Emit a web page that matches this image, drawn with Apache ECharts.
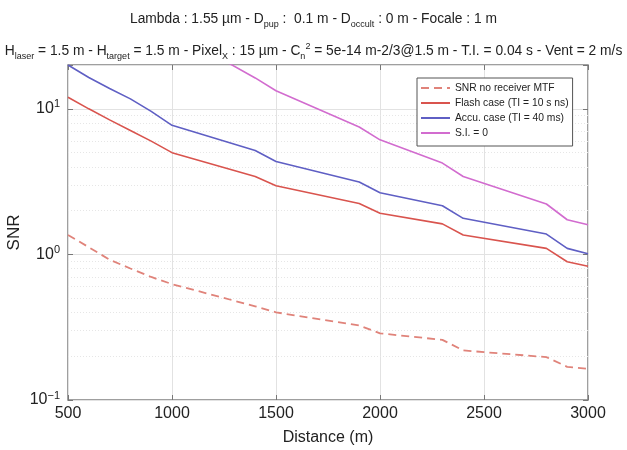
<!DOCTYPE html>
<html>
<head>
<meta charset="utf-8">
<script src="https://cdn.jsdelivr.net/npm/echarts@6/dist/echarts.min.js"></script>
<style>html,body{margin:0;padding:0;background:#fff}#c{width:627px;height:450px}</style>
</head>
<body>
<div id="c"></div>
<script>
const distance = [500, 600, 700, 800, 900, 1000, 1400, 1500, 1900, 2000, 2300, 2400, 2800, 2900, 3000];
const snrNoMtf = [1.36, 1.12, 0.92, 0.80, 0.70, 0.625, 0.44, 0.40, 0.325, 0.287, 0.259, 0.219, 0.197, 0.169, 0.164];
const flashCase = [12, 10, 8.4, 7.1, 6.0, 5.0, 3.43, 2.96, 2.24, 1.92, 1.62, 1.36, 1.10, 0.89, 0.83];
const accuCase = [20, 16.4, 13.8, 11.7, 9.6, 7.7, 5.17, 4.35, 3.14, 2.65, 2.16, 1.77, 1.38, 1.10, 1.01];
const siZero = [null, null, null, null, null, 34, 16.3, 13.3, 7.5, 6.12, 4.24, 3.43, 2.22, 1.73, 1.60];
const seriesNames = ['SNR no receiver MTF', 'Flash case (TI = 10 s ns)', 'Accu. case (TI = 40 ms)', 'S.I. = 0'];
const xTicks = [500, 1000, 1500, 2000, 2500, 3000];
const minorY = [0.2,0.3,0.4,0.5,0.6,0.7,0.8,0.9,2,3,4,5,6,7,8,9];

const FONT = '"Liberation Sans", Arial, sans-serif';
const pair = arr => distance.map((d, i) => [d, arr[i]]);

function yLabel(v) {
  const l = Math.log10(v);
  const e = Math.round(l);
  if (Math.abs(l - e) > 1e-6) return '';
  return '{b|10}{s|' + (e < 0 ? '\u2212' : '') + Math.abs(e) + '}';
}
const yRich = {
  b: {fontSize: 16, fontFamily: FONT, color: '#222', lineHeight: 20},
  s: {fontSize: 11, fontFamily: FONT, color: '#222', verticalAlign: 'top', lineHeight: 12}
};
const tRich = {
  n: {fontSize: 13.8, fontFamily: FONT, color: '#222', fontWeight: 'normal', lineHeight: 19},
  sub: {fontSize: 9, fontFamily: FONT, color: '#222', fontWeight: 'normal', verticalAlign: 'bottom', lineHeight: 10},
  sup: {fontSize: 9, fontFamily: FONT, color: '#222', fontWeight: 'normal', verticalAlign: 'top', lineHeight: 10}
};

const chart = echarts.init(document.getElementById('c'), null, {renderer: 'canvas'});
const minorLines = {
  silent: true, symbol: 'none', label: {show: false}, z: 1,
  lineStyle: {color: '#e6e6e6', type: [1, 2], width: 1},
  data: minorY.map(v => ({yAxis: v}))
};
const tickStyle = {color: '#777', width: 1};
chart.setOption({
  animation: false,
  backgroundColor: '#fff',
  title: [
    {
      text: '{n|Lambda : 1.55 \u00b5m - D}{sub|pup}{n| :  0.1 m - D}{sub|occult}{n| : 0 m - Focale : 1 m}',
      left: 'center', top: 5,
      textStyle: {fontWeight: 'normal', rich: tRich}
    },
    {
      text: '{n|H}{sub|laser}{n| = 1.5 m - H}{sub|target}{n| = 1.5 m - Pixel}{sub|X}{n| : 15 \u00b5m - C}{sub|n}{sup|2}{n| = 5e-14 m-2/3@1.5 m - T.I. = 0.04 s - Vent = 2 m/s}',
      left: 'center', top: 37,
      textStyle: {fontWeight: 'normal', rich: tRich}
    }
  ],
  grid: {left: 68, right: 39, top: 65, bottom: 50, show: true, borderColor: '#808080', borderWidth: 1.5,
    backgroundColor: 'transparent', containLabel: false, outerBoundsMode: 'none'},
  legend: {
    orient: 'vertical', left: 417, top: 78, z: 20,
    itemWidth: 29, itemHeight: 10, itemGap: 5,
    padding: [5, 4, 8, 3],
    borderColor: '#555', borderWidth: 1, backgroundColor: '#fff',
    itemStyle: {opacity: 0},
    textStyle: {fontFamily: FONT, fontSize: 10.3, color: '#222'},
    data: seriesNames
  },
  xAxis: [
    {
      type: 'value', min: 500, max: 3000, interval: 500,
      name: 'Distance (m)', nameLocation: 'middle', nameGap: 30, nameMoveOverlap: false,
      nameTextStyle: {fontFamily: FONT, fontSize: 16, color: '#222'},
      axisLine: {show: false},
      axisTick: {show: true, inside: true, length: 5, lineStyle: tickStyle},
      axisLabel: {fontFamily: FONT, fontSize: 16, color: '#222', margin: 6,
        formatter: v => xTicks.includes(v) ? String(v) : ''},
      splitLine: {show: true, lineStyle: {color: '#e2e2e2', width: 1}}
    },
    {
      type: 'value', position: 'top', min: 500, max: 3000, interval: 500,
      axisLine: {show: false}, axisLabel: {show: false},
      axisTick: {show: true, inside: true, length: 5, lineStyle: tickStyle},
      splitLine: {show: false}
    }
  ],
  yAxis: [
    {
      type: 'log', logBase: 10, min: 0.1, max: 20,
      name: 'SNR', nameLocation: 'middle', nameGap: 45, nameRotate: 90, nameMoveOverlap: false,
      nameTextStyle: {fontFamily: FONT, fontSize: 17, color: '#222'},
      axisLine: {show: false},
      axisTick: {show: true, inside: true, length: 5, lineStyle: tickStyle},
      axisLabel: {formatter: yLabel, rich: yRich, margin: 8},
      splitLine: {show: true, lineStyle: {color: '#e2e2e2', width: 1}}
    },
    {
      type: 'log', logBase: 10, min: 0.1, max: 20, position: 'right',
      axisLine: {show: false}, axisLabel: {show: false},
      axisTick: {show: true, inside: true, length: 5, lineStyle: tickStyle},
      splitLine: {show: false}
    }
  ],
  series: [
    {name: seriesNames[0], type: 'line', data: pair(snrNoMtf), showSymbol: false, symbol: 'none',
      lineStyle: {color: '#e0837a', width: 1.8, type: [8, 5]}, itemStyle: {color: '#e0837a'},
      markLine: minorLines},
    {name: seriesNames[1], type: 'line', data: pair(flashCase), showSymbol: false, symbol: 'none',
      lineStyle: {color: '#d9544e', width: 1.6}, itemStyle: {color: '#d9544e'}},
    {name: seriesNames[2], type: 'line', data: pair(accuCase), showSymbol: false, symbol: 'none',
      lineStyle: {color: '#5f5fc4', width: 1.6}, itemStyle: {color: '#5f5fc4'}},
    {name: seriesNames[3], type: 'line', data: pair(siZero), showSymbol: false, symbol: 'none', connectNulls: false,
      lineStyle: {color: '#d26ccf', width: 1.6}, itemStyle: {color: '#d26ccf'}}
  ]
});
</script>
</body>
</html>
